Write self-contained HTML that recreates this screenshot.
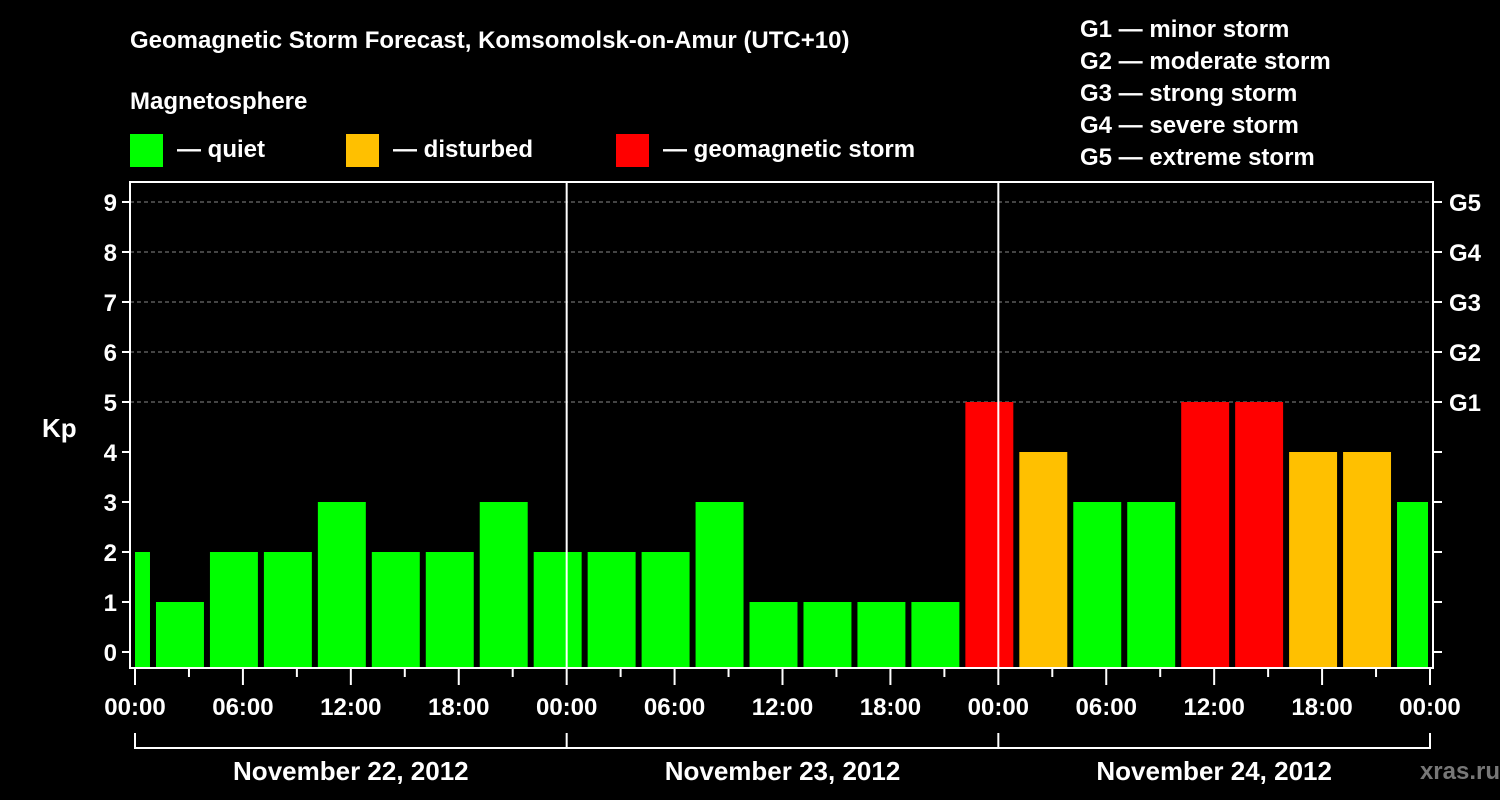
<!DOCTYPE html>
<html><head><meta charset="utf-8"><style>
body{margin:0;background:#000;}
svg{display:block;font-family:"Liberation Sans",Arial,sans-serif;font-weight:bold;}
</style></head><body>
<svg id="c" width="1500" height="800" xmlns="http://www.w3.org/2000/svg">
<rect width="1500" height="800" fill="#000"/>
<text x="130" y="48" fill="#fff" font-size="24">Geomagnetic Storm Forecast, Komsomolsk-on-Amur (UTC+10)</text>
<text x="130" y="109" fill="#fff" font-size="24">Magnetosphere</text>
<g><rect x="130" y="134" width="33" height="33" fill="#00ff00"/><text x="177" y="157" fill="#fff" font-size="24">— quiet</text></g>
<g><rect x="346" y="134" width="33" height="33" fill="#ffc000"/><text x="393" y="157" fill="#fff" font-size="24">— disturbed</text></g>
<g><rect x="616" y="134" width="33" height="33" fill="#ff0000"/><text x="663" y="157" fill="#fff" font-size="24">— geomagnetic storm</text></g>
<g fill="#fff" font-size="24">
<text x="1080" y="37">G1 — minor storm</text>
<text x="1080" y="69">G2 — moderate storm</text>
<text x="1080" y="101">G3 — strong storm</text>
<text x="1080" y="133">G4 — severe storm</text>
<text x="1080" y="165">G5 — extreme storm</text>
</g>
<text x="42" y="437" fill="#fff" font-size="26">Kp</text>
<text x="1500" y="779" fill="#777" font-size="24" text-anchor="end">xras.ru</text>
<g id="plot"></g>
</svg>
<script>
const binStarts=[-2,1,4,7,10,13,16,19,22,25,28,31,34,37,40,43,46,49,52,55,58,61,64,67,70];
const kpValues=[2,1,2,2,3,2,2,3,2,2,2,3,1,1,1,1,5,4,3,3,5,5,4,4,3];
const yTicks=[0,1,2,3,4,5,6,7,8,9];
const gLabels=["G1","G2","G3","G4","G5"];
const xTickLabels=["00:00","06:00","12:00","18:00","00:00","06:00","12:00","18:00","00:00","06:00","12:00","18:00","00:00"];
const dayLabels=["November 22, 2012","November 23, 2012","November 24, 2012"];
const NS="http://www.w3.org/2000/svg";
const g=document.getElementById('plot');
const X0=135,X1=1430,PL=130,PR=1433,PT=182,PB=668;
const x=h=>X0+h*(X1-X0)/72;
const y=v=>652-v*50;
function mk(t,a,p){const e=document.createElementNS(NS,t);for(const k in a)e.setAttribute(k,a[k]);(p||g).appendChild(e);return e;}
// grid
yTicks.forEach(v=>{if(v>=5){const l=mk('line',{x1:PL,x2:PR,y1:y(v),y2:y(v),stroke:'#888','stroke-dasharray':'4,3','stroke-width':1});

}});
// bars
binStarts.forEach((s,i)=>{const v=kpValues[i];const a=Math.max(x(s)+3,X0),b=Math.min(x(s+3)-3,1428);
const c=v>=5?'#ff0000':(v>=4?'#ffc000':'#00ff00');
const r=mk('rect',{x:a,y:y(v),width:b-a,height:PB-y(v),fill:c});

});
// day separators
[24,48].forEach(h=>{const l=mk('line',{x1:x(h),x2:x(h),y1:PT,y2:PB,stroke:'#fff','stroke-width':2});

});
// frame
const f=mk('rect',{x:PL,y:PT,width:PR-PL,height:PB-PT,fill:'none',stroke:'#fff','stroke-width':2});


// y ticks
yTicks.forEach(v=>{mk('line',{x1:PL-8,x2:PL,y1:y(v),y2:y(v),stroke:'#fff','stroke-width':2});
mk('line',{x1:PR,x2:PR+9,y1:y(v),y2:y(v),stroke:'#fff','stroke-width':2});
const t=mk('text',{x:117,y:y(v)+9,fill:'#fff','font-size':24,'text-anchor':'end'});t.textContent=v;


if(v>=5){const r=mk('text',{x:1449,y:y(v)+9,fill:'#fff','font-size':24});r.textContent=gLabels[v-5];

}});
// x ticks
for(let h=0;h<=72;h+=3){const maj=h%6===0;mk('line',{x1:x(h),x2:x(h),y1:PB,y2:PB+(maj?17:9),stroke:'#fff','stroke-width':2});}
xTickLabels.forEach((s,i)=>{const t=mk('text',{x:x(i*6),y:715,fill:'#fff','font-size':24,'text-anchor':'middle'});t.textContent=s;

});
// date bracket
mk('line',{x1:X0,x2:X1,y1:748,y2:748,stroke:'#fff','stroke-width':2});
[0,24,48,72].forEach(h=>mk('line',{x1:x(h),x2:x(h),y1:733,y2:749,stroke:'#fff','stroke-width':2}));
dayLabels.forEach((s,i)=>{const t=mk('text',{x:x(i*24+12),y:780,fill:'#fff','font-size':26,'text-anchor':'middle'});t.textContent=s;

});
</script>
</body></html>
